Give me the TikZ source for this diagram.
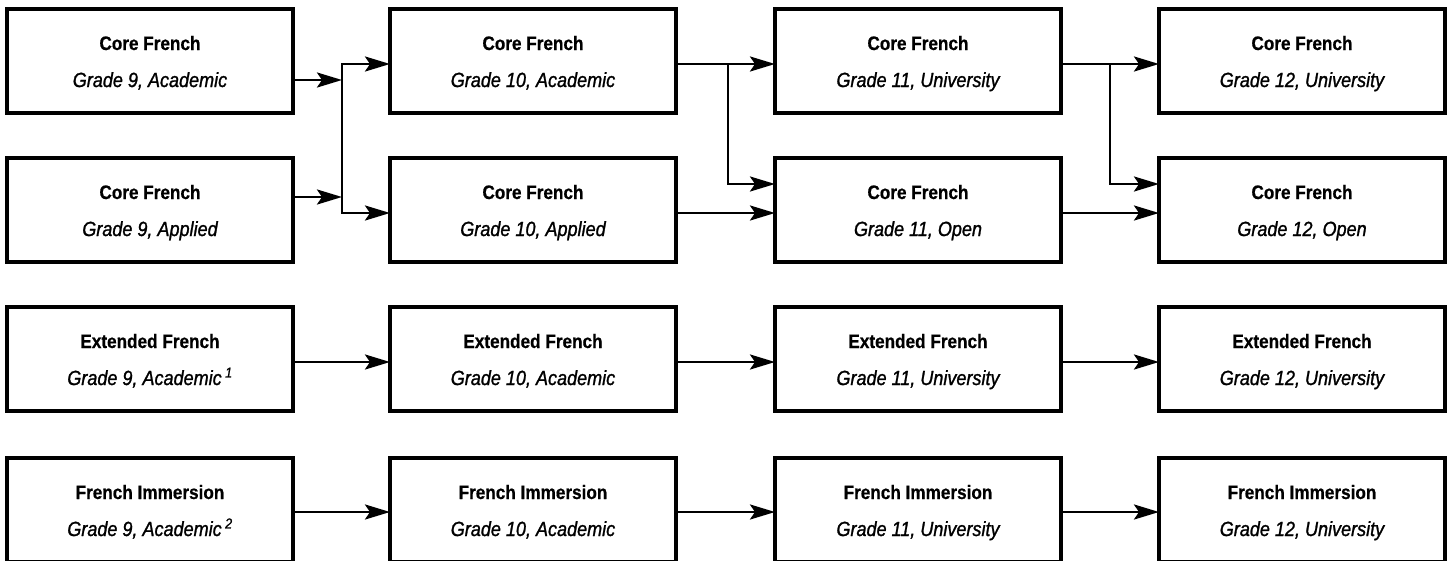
\documentclass[tikz,border=0pt]{standalone}
\usepackage{fontspec}
\setmainfont{Liberation Sans}
\newfontfamily\condbf[FakeStretch=0.88,FakeBold=0.6]{Liberation Sans Bold}
\newfontfamily\condit[FakeStretch=0.88,FakeBold=1.2]{Liberation Sans Italic}
\usetikzlibrary{arrows.meta}
\tikzset{
  box/.style={draw, line width=3.1pt, minimum width=286pt, minimum height=104pt, inner sep=0pt, outer sep=0pt, anchor=north west},
  ttl/.style={anchor=base, inner sep=0pt, font=\condbf\fontsize{19.5}{20}\selectfont},
  sub/.style={anchor=base, inner sep=0pt, font=\condit\fontsize{20.5}{20}\selectfont},
  arr/.style={line width=2.7pt, line join=miter, -{Stealth[length=25pt,width=15pt,inset=5pt]}},
}
\newcommand\cbox[5]{%
  \node[box] (#1) at (#2,-#3) {};
  \node[ttl] (#1t) at ([yshift=-41pt]#1.north) {#4};
  \node[sub] (#1s) at ([yshift=-78pt]#1.north) {#5};
}
\begin{document}
\begin{tikzpicture}[x=1pt,y=1pt]
\useasboundingbox (0,0) rectangle (1451,-560);
% row 1
\cbox{r1c1}{7}{9}{Core French}{Grade 9, Academic}
\cbox{r1c2}{390}{9}{Core French}{Grade 10, Academic}
\cbox{r1c3}{775}{9}{Core French}{Grade 11, University}
\cbox{r1c4}{1159}{9}{Core French}{Grade 12, University}
% row 2
\cbox{r2c1}{7}{158}{Core French}{Grade 9, Applied}
\cbox{r2c2}{390}{158}{Core French}{Grade 10, Applied}
\cbox{r2c3}{775}{158}{Core French}{Grade 11, Open}
\cbox{r2c4}{1159}{158}{Core French}{Grade 12, Open}
% row 3
\cbox{r3c1}{7}{307}{Extended French}{Grade 9, Academic\,\textsuperscript{1}}
\cbox{r3c2}{390}{307}{Extended French}{Grade 10, Academic}
\cbox{r3c3}{775}{307}{Extended French}{Grade 11, University}
\cbox{r3c4}{1159}{307}{Extended French}{Grade 12, University}
% row 4
\cbox{r4c1}{7}{458}{French Immersion}{Grade 9, Academic\,\textsuperscript{2}}
\cbox{r4c2}{390}{458}{French Immersion}{Grade 10, Academic}
\cbox{r4c3}{775}{458}{French Immersion}{Grade 11, University}
\cbox{r4c4}{1159}{458}{French Immersion}{Grade 12, University}
% helper coordinates
\coordinate (j1) at (342,0);
\coordinate (j2) at (728,0);
\coordinate (j3) at (1110,0);
\coordinate (ya) at (0,-64);
\coordinate (yb) at (0,-80);
\coordinate (yc) at (0,-184);
\coordinate (yd) at (0,-197);
\coordinate (ye) at (0,-213);
\coordinate (yf) at (0,-362);
\coordinate (yg) at (0,-512);
% grade 9 -> grade 10 (core)
\draw[arr] (r1c1.east |- yb) -- (j1 |- yb);
\draw[arr] (r2c1.east |- yd) -- (j1 |- yd);
\draw[arr] (j1 |- ye) -- (j1 |- ya) -- (r1c2.west |- ya);
\draw[arr] (j1 |- ya) -- (j1 |- ye) -- (r2c2.west |- ye);
% grade 10 -> grade 11 (core)
\draw[arr] (r1c2.east |- ya) -- (r1c3.west |- ya);
\draw[arr] (j2 |- ya) -- (j2 |- yc) -- (r2c3.west |- yc);
\draw[arr] (r2c2.east |- ye) -- (r2c3.west |- ye);
% grade 11 -> grade 12 (core)
\draw[arr] (r1c3.east |- ya) -- (r1c4.west |- ya);
\draw[arr] (j3 |- ya) -- (j3 |- yc) -- (r2c4.west |- yc);
\draw[arr] (r2c3.east |- ye) -- (r2c4.west |- ye);
% extended
\draw[arr] (r3c1.east |- yf) -- (r3c2.west |- yf);
\draw[arr] (r3c2.east |- yf) -- (r3c3.west |- yf);
\draw[arr] (r3c3.east |- yf) -- (r3c4.west |- yf);
% immersion
\draw[arr] (r4c1.east |- yg) -- (r4c2.west |- yg);
\draw[arr] (r4c2.east |- yg) -- (r4c3.west |- yg);
\draw[arr] (r4c3.east |- yg) -- (r4c4.west |- yg);
\end{tikzpicture}
\end{document}
